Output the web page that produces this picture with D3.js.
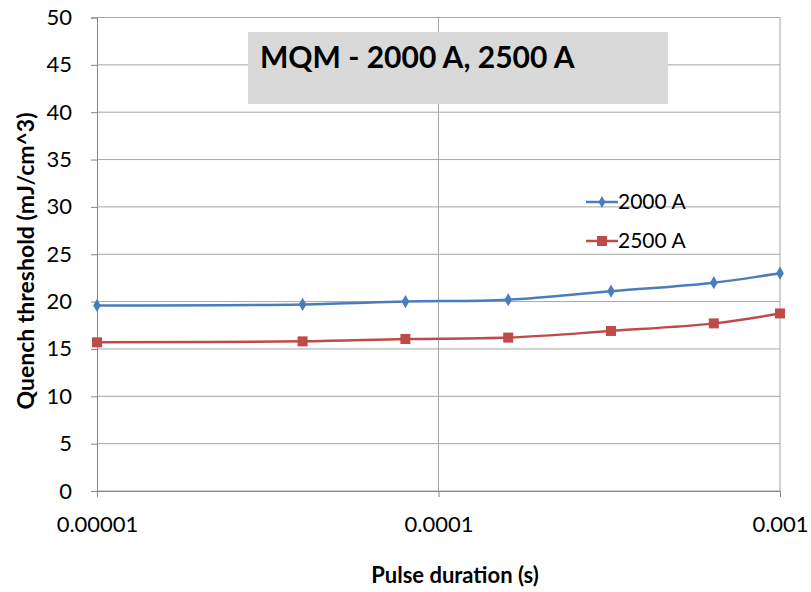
<!DOCTYPE html>
<html><head><meta charset="utf-8">
<script src="https://cdn.jsdelivr.net/npm/d3@7"></script>
<style>body{margin:0;background:#fff;} text{font-family:Lato,"Open Sans",sans-serif;}</style>
</head><body>
<svg id="c" width="811" height="592"></svg>
<script>
const pulseDuration = [0.00001, 0.00004, 0.00008, 0.00016, 0.00032, 0.00064, 0.001];
const series2000 = [19.6, 19.7, 20.0, 20.2, 21.1, 22.0, 23.0];
const series2500 = [15.7, 15.8, 16.05, 16.2, 16.9, 17.7, 18.75];
const seriesNames = ["2000 A", "2500 A"];
const seriesColors = ["#4a7ebb", "#be4b48"];
const yTicks = [0,5,10,15,20,25,30,35,40,45,50];
const xTicks = [0.00001, 0.0001, 0.001];
const xTickLabels = ["0.00001", "0.0001", "0.001"];
const title = "MQM - 2000 A, 2500 A";

const svg = d3.select("#c");
const x = d3.scaleLog().domain([1e-5, 1e-3]).range([97, 780]);
const y = d3.scaleLinear().domain([0, 50]).range([491, 17.5]);

// horizontal gridlines
svg.append("g").selectAll("line").data(yTicks).join("line")
  .attr("x1", 97).attr("x2", 780)
  .attr("y1", d => y(d)).attr("y2", d => y(d))
  .attr("stroke", "#a6a6a6").attr("stroke-width", 1);
// vertical gridlines
svg.append("g").selectAll("line").data(xTicks.slice(1)).join("line")
  .attr("x1", d => x(d)).attr("x2", d => x(d))
  .attr("y1", y(50)).attr("y2", y(0))
  .attr("stroke", "#a6a6a6").attr("stroke-width", 1);

// y axis
const yAxis = d3.axisLeft(y).tickValues(yTicks).tickSize(6).tickFormat(d3.format("d"));
const gy = svg.append("g").attr("transform", "translate(97,0)").call(yAxis);
gy.select(".domain").attr("stroke", "#868686");
gy.selectAll(".tick line").attr("stroke", "#868686");
gy.selectAll(".tick text").attr("font-size", 22).attr("fill", "#000").attr("x", -25).style("font-family","Lato,sans-serif");

// x axis
const xAxis = d3.axisBottom(x).tickValues(xTicks).tickSize(6).tickFormat((d,i) => xTickLabels[i]);
const gx = svg.append("g").attr("transform", `translate(0,${y(0)})`).call(xAxis);
gx.select(".domain").attr("stroke", "#868686");
gx.selectAll(".tick line").attr("stroke", "#868686");
gx.selectAll(".tick text").attr("font-size", 22).attr("fill", "#000").attr("y", 41).attr("dy", 0).style("font-family","Lato,sans-serif");

// title box
svg.append("rect").attr("x", 248).attr("y", 32).attr("width", 420).attr("height", 72).attr("fill", "#d9d9d9");
svg.append("text").attr("x", 260).attr("y", 68).attr("font-size", 30).attr("font-weight", "bold").text(title);

// axis titles
svg.append("text").attr("transform", "translate(34,261) rotate(-90)").attr("text-anchor", "middle")
  .attr("font-size", 23).attr("font-weight", "bold").text("Quench threshold (mJ/cm^3)");
svg.append("text").attr("x", 455).attr("y", 583).attr("text-anchor", "middle")
  .attr("font-size", 22).attr("font-weight", "bold").text("Pulse duration (s)");

const line = d3.line().x(d => x(d[0])).y(d => y(d[1])).curve(d3.curveCatmullRom.alpha(0.5));
const allSeries = [series2000, series2500];
allSeries.forEach((vals, i) => {
  const pts = pulseDuration.map((p, j) => [p, vals[j]]);
  svg.append("path").attr("d", line(pts)).attr("fill", "none").attr("stroke", seriesColors[i]).attr("stroke-width", 2.5);
  const g = svg.append("g");
  if (i === 0) {
    g.selectAll("path").data(pts).join("path")
      .attr("d", d3.symbol().type(d3.symbolDiamond).size(50))
      .attr("transform", d => `translate(${x(d[0])},${y(d[1])})`).attr("fill", seriesColors[i]);
  } else {
    g.selectAll("rect").data(pts).join("rect")
      .attr("x", d => x(d[0]) - 5).attr("y", d => y(d[1]) - 5).attr("width", 10).attr("height", 10)
      .attr("fill", seriesColors[i]);
  }
});

// legend
const legY = [202, 241];
seriesNames.forEach((name, i) => {
  const g = svg.append("g");
  g.append("line").attr("x1", 586).attr("x2", 618).attr("y1", legY[i]).attr("y2", legY[i])
    .attr("stroke", seriesColors[i]).attr("stroke-width", 2.5);
  if (i === 0) {
    g.append("path").attr("d", d3.symbol().type(d3.symbolDiamond).size(40)).attr("transform", `translate(602,${legY[i]})`).attr("fill", seriesColors[i]);
  } else {
    g.append("rect").attr("x", 597).attr("y", legY[i]-5).attr("width", 10).attr("height", 10).attr("fill", seriesColors[i]);
  }
  g.append("text").attr("x", 618).attr("y", legY[i] + 7).attr("font-size", 21).text(name);
});
</script>
</body></html>
